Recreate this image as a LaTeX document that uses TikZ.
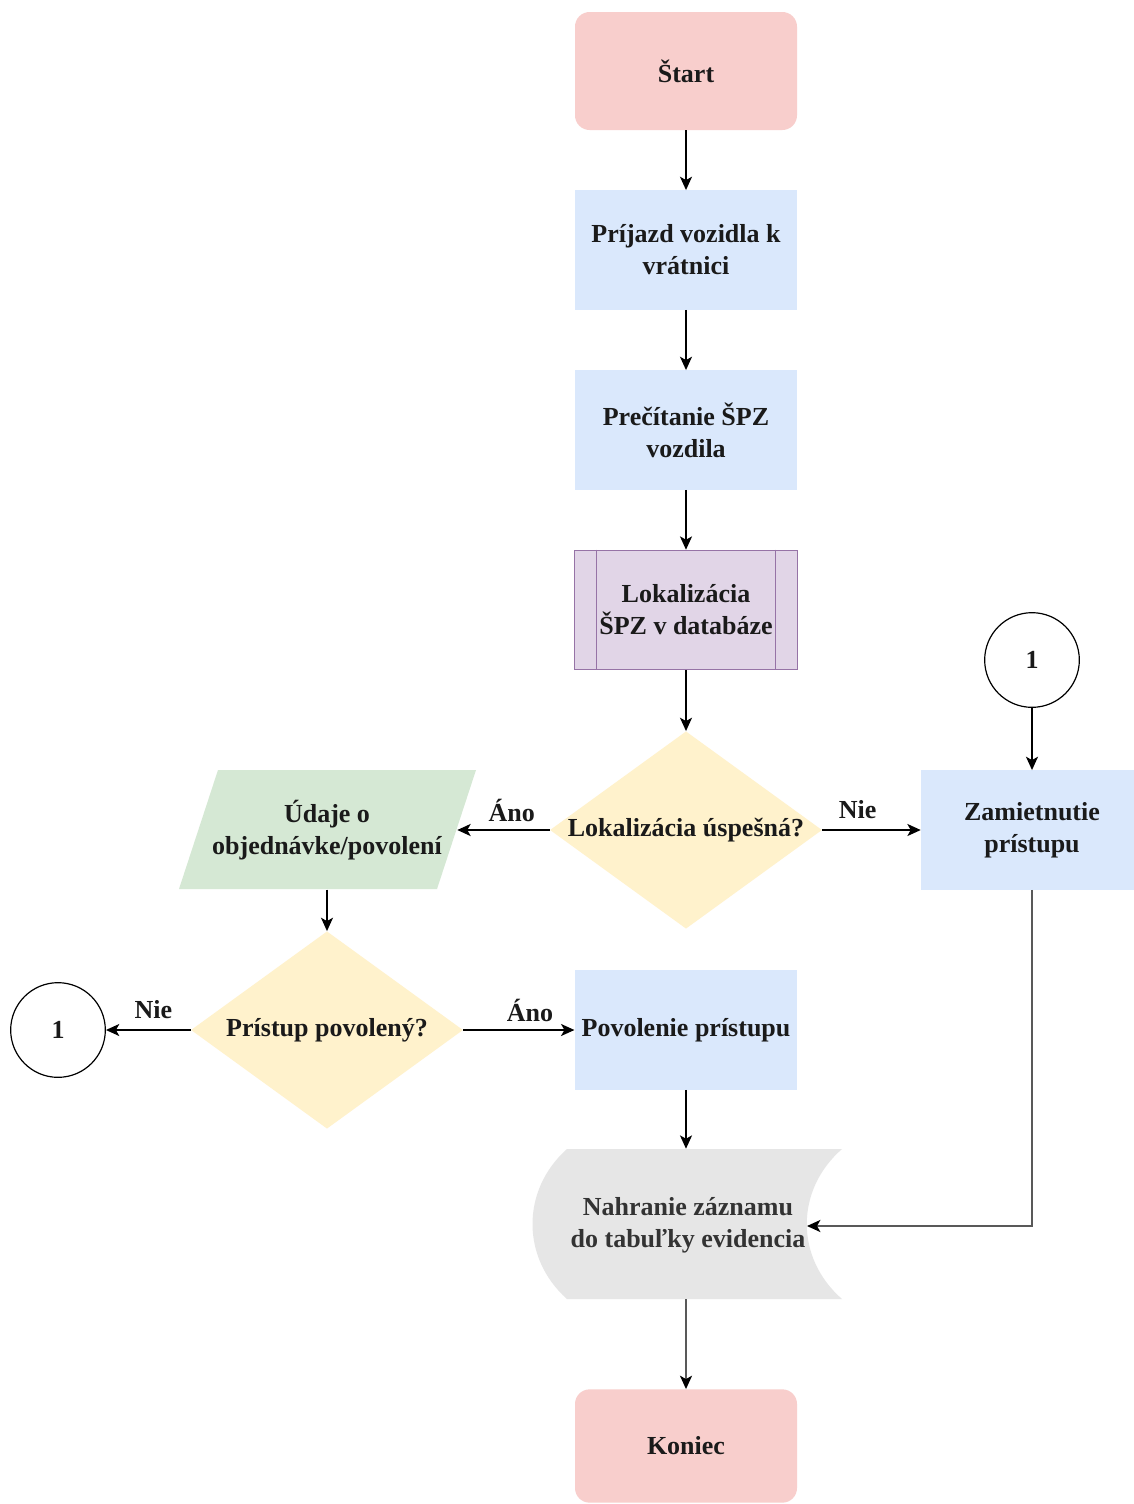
\documentclass[tikz,border=0pt]{standalone}
\usepackage{fontspec}
\setmainfont{Liberation Serif}
\usetikzlibrary{arrows.meta,shapes.geometric}
\definecolor{cpink}{HTML}{F8CECC}
\definecolor{cblue}{HTML}{DAE8FC}
\definecolor{cpurple}{HTML}{E1D5E7}
\definecolor{cpurpled}{HTML}{9673A6}
\definecolor{cyellow}{HTML}{FFF2CC}
\definecolor{cgreen}{HTML}{D5E8D4}
\definecolor{cgrey}{HTML}{E6E6E6}
\definecolor{ctext}{HTML}{1A1A1A}
\definecolor{cgtext}{HTML}{333333}
\begin{document}
\begin{tikzpicture}[x=0.75pt,y=-0.75pt,
  font=\fontsize{19.5}{24}\selectfont\bfseries,
  every node/.style={text=ctext},
  term/.style={rectangle,rounded corners=11pt,fill=cpink,minimum width=166.5pt,minimum height=88.5pt,inner sep=0pt},
  procbox/.style={rectangle,fill=cblue,minimum width=167pt,minimum height=89.5pt,inner sep=0pt,align=center},
  subproc/.style={rectangle,fill=cpurple,draw=cpurpled,line width=0.9pt,minimum width=167pt,minimum height=89.5pt,inner sep=0pt,align=center},
  dia/.style={diamond,fill=cyellow,aspect=1.38,minimum width=204pt,minimum height=148pt,inner sep=0pt},
  conn/.style={circle,draw=black,line width=0.9pt,minimum size=71pt,inner sep=0pt},
  ghost/.style={rectangle,inner sep=0pt},
  txt/.style={align=center,inner sep=0pt},
  lbl/.style={inner sep=0pt,yshift=15pt},
  arr/.style={draw=black,line width=1.35pt,-{Stealth[length=10pt,width=9pt,inset=2.5pt]}},
  garr/.style={draw=black!65,line width=1.6pt,-{Stealth[length=10pt,width=9pt,inset=2.5pt,color=black]}}
]
\useasboundingbox (0,0) rectangle (1134,1504);
\fill[white] (0,0) rectangle (1134,1504);

% nodes
\node[term] (start) at (686,71) {Štart};
\node[procbox] (pri) at (686,250) {Príjazd vozidla k\\vrátnici};
\node[procbox] (pre) at (686,430) {Prečítanie ŠPZ\\vozdila};
\node[subproc] (lok) at (686,610) {Lokalizácia\\ŠPZ v databáze};
\draw[cpurpled,line width=0.9pt] ([xshift=17pt]lok.north west) -- ([xshift=17pt]lok.south west);
\draw[cpurpled,line width=0.9pt] ([xshift=-17pt]lok.north east) -- ([xshift=-17pt]lok.south east);

\node[dia] (d1) at (686,830) {};
\node[txt] (d1t) at (d1.center) {Lokalizácia úspešná?};

\node[procbox,minimum width=166.5pt] (zam) at (1032,830) {Zamietnutie\\prístupu};
\node[conn] (c1) at (1032,660) {1};

% parallelogram
\fill[cgreen] (218,770) -- (476,770) -- (437,889) -- (179,889) -- cycle;
\node[ghost,minimum width=195pt,minimum height=89pt] (ud) at (327,830) {};
\node[txt] (udt) at (327,830) {Údaje o\\objednávke/povolení};

\node[dia] (d2) at (327,1030) {};
\node[txt] (d2t) at (d2.center) {Prístup povolený?};
\node[conn] (c2) at (58,1030) {1};

\node[procbox] (pov) at (686,1030) {Povolenie prístupu};

% data storage
\node[ghost,minimum width=232.5pt,minimum height=112.5pt] (nah) at (686,1224) {};
\fill[cgrey] (567,1149) -- (842,1149) .. controls (795,1190) and (795,1258) .. (842,1299)
  -- (567,1299) .. controls (521,1258) and (521,1190) .. (567,1149) -- cycle;
\node[txt,text=cgtext] (naht) at (688,1225) {Nahranie záznamu\\do tabuľky evidencia};
\coordinate (nahR) at (807,1226);

\node[term,minimum height=85pt] (kon) at (686,1446) {Koniec};

% connectors
\draw[arr] (start) -- (pri);
\draw[arr] (pri) -- (pre);
\draw[arr] (pre) -- (lok);
\draw[arr] (lok) -- (d1);
\draw[arr] (d1.west) -- node[lbl,pos=0.41] {Áno} (ud.east);
\draw[arr] (d1.east) -- node[lbl,pos=0.36] {Nie} (zam.west);
\draw[arr] (c1) -- (zam);
\draw[arr] (ud.south) -- (d2.north);
\draw[arr] (d2.west) -- node[lbl,pos=0.44] {Nie} (c2.east);
\draw[arr] (d2.east) -- node[lbl,pos=0.6] {Áno} (pov.west);
\draw[arr] (pov) -- (nah.north);
\draw[garr] (zam.south) |- (nahR);
\draw[garr] (nah.south) -- (kon.north);
\end{tikzpicture}
\end{document}
